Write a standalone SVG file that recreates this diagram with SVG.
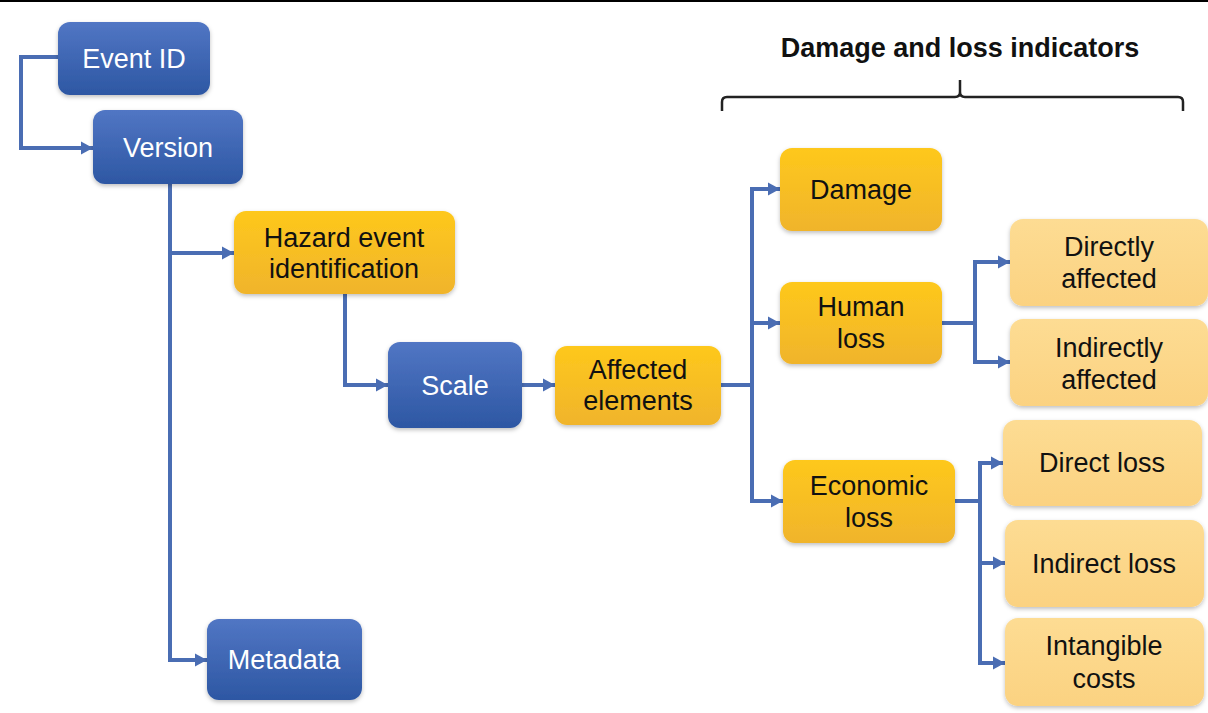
<svg xmlns="http://www.w3.org/2000/svg" width="1208" height="713" viewBox="0 0 1208 713">
<defs>
<linearGradient id="gBlue" x1="0" y1="0" x2="0" y2="1">
<stop offset="0" stop-color="#5176c4"/>
<stop offset="1" stop-color="#2d57a3"/>
</linearGradient>
<linearGradient id="gYel" x1="0" y1="0" x2="0" y2="1">
<stop offset="0" stop-color="#fec81c"/>
<stop offset="1" stop-color="#f0b42c"/>
</linearGradient>
<linearGradient id="gLight" x1="0" y1="0" x2="0" y2="1">
<stop offset="0" stop-color="#fddc93"/>
<stop offset="1" stop-color="#fbd281"/>
</linearGradient>
<filter id="sh" x="-10%" y="-10%" width="120%" height="130%">
<feDropShadow dx="0" dy="2" stdDeviation="2" flood-color="#000" flood-opacity="0.25"/>
</filter>
<marker id="arr" markerUnits="userSpaceOnUse" markerWidth="14" markerHeight="14" refX="12" refY="7" orient="auto">
<path d="M0,0.5 L12,7 L0,13.5 z" fill="#4a6db3"/>
</marker>
<style>
.conn{fill:none;stroke:#4a6db3;stroke-width:4;}
.blue{fill:url(#gBlue);filter:url(#sh);}
.yel{fill:url(#gYel);filter:url(#sh);}
.light{fill:url(#gLight);filter:url(#sh);}
.tw{font-family:"Liberation Sans",Arial,sans-serif;font-size:27px;fill:#ffffff;text-anchor:middle;}
.tb{font-family:"Liberation Sans",Arial,sans-serif;font-size:27px;fill:#111111;text-anchor:middle;}
.hd{font-family:"Liberation Sans",Arial,sans-serif;font-size:27px;font-weight:bold;fill:#111111;text-anchor:middle;}
</style>
</defs>
<rect x="0" y="0" width="1208" height="713" fill="#ffffff"/>
<rect x="0" y="0" width="1208" height="2" fill="#000000"/>

<g id="header">
<text class="hd" x="960" y="57">Damage and loss indicators</text>
<path d="M722,111 V102 Q722,97 727,97 H955 Q960,97 960,92 V80 M960,92 Q960,97 965,97 H1178 Q1183,97 1183,102 V111" fill="none" stroke="#222222" stroke-width="2.5"/>
</g>

<g id="connectors">
<path class="conn" d="M58,57 H21 V148 H93" marker-end="url(#arr)"/>
<path class="conn" d="M170,184 V660 H207" marker-end="url(#arr)"/>
<path class="conn" d="M170,253 H234" marker-end="url(#arr)"/>
<path class="conn" d="M345,294 V385 H388" marker-end="url(#arr)"/>
<path class="conn" d="M522,385 H555" marker-end="url(#arr)"/>
<path class="conn" d="M721,385 H752"/>
<path class="conn" d="M752,501 V189 H780" marker-end="url(#arr)"/>
<path class="conn" d="M752,323 H780" marker-end="url(#arr)"/>
<path class="conn" d="M752,499 V501 H783" marker-end="url(#arr)"/>
<path class="conn" d="M942,323 H975"/>
<path class="conn" d="M975,362 V262 H1010" marker-end="url(#arr)"/>
<path class="conn" d="M975,360 V362 H1010" marker-end="url(#arr)"/>
<path class="conn" d="M955,501 H980"/>
<path class="conn" d="M980,663 V463 H1003" marker-end="url(#arr)"/>
<path class="conn" d="M980,563 H1005" marker-end="url(#arr)"/>
<path class="conn" d="M980,661 V663 H1005" marker-end="url(#arr)"/>
</g>

<g id="event-id">
<rect class="blue" x="58" y="22" width="152" height="73" rx="12"/>
<text class="tw" x="134" y="68">Event ID</text>
</g>
<g id="version">
<rect class="blue" x="93" y="110" width="150" height="74" rx="12"/>
<text class="tw" x="168" y="157">Version</text>
</g>
<g id="hazard">
<rect class="yel" x="234" y="211" width="221" height="83" rx="12"/>
<text class="tb" x="344" y="247">Hazard event</text>
<text class="tb" x="344" y="278">identification</text>
</g>
<g id="scale">
<rect class="blue" x="388" y="342" width="134" height="86" rx="12"/>
<text class="tw" x="455" y="395">Scale</text>
</g>
<g id="affected">
<rect class="yel" x="555" y="346" width="166" height="79" rx="12"/>
<text class="tb" x="638" y="379">Affected</text>
<text class="tb" x="638" y="410">elements</text>
</g>
<g id="metadata">
<rect class="blue" x="207" y="619" width="155" height="81" rx="12"/>
<text class="tw" x="284" y="669">Metadata</text>
</g>
<g id="damage">
<rect class="yel" x="780" y="148" width="162" height="83" rx="12"/>
<text class="tb" x="861" y="199">Damage</text>
</g>
<g id="human-loss">
<rect class="yel" x="780" y="282" width="162" height="82" rx="12"/>
<text class="tb" x="861" y="316">Human</text>
<text class="tb" x="861" y="348">loss</text>
</g>
<g id="economic-loss">
<rect class="yel" x="783" y="460" width="172" height="83" rx="12"/>
<text class="tb" x="869" y="495">Economic</text>
<text class="tb" x="869" y="527">loss</text>
</g>
<g id="directly-affected">
<rect class="light" x="1010" y="219" width="198" height="87" rx="13"/>
<text class="tb" x="1109" y="256">Directly</text>
<text class="tb" x="1109" y="288">affected</text>
</g>
<g id="indirectly-affected">
<rect class="light" x="1010" y="319" width="198" height="87" rx="13"/>
<text class="tb" x="1109" y="357">Indirectly</text>
<text class="tb" x="1109" y="389">affected</text>
</g>
<g id="direct-loss">
<rect class="light" x="1003" y="420" width="199" height="86" rx="13"/>
<text class="tb" x="1102" y="472">Direct loss</text>
</g>
<g id="indirect-loss">
<rect class="light" x="1005" y="520" width="199" height="87" rx="13"/>
<text class="tb" x="1104" y="573">Indirect loss</text>
</g>
<g id="intangible-costs">
<rect class="light" x="1005" y="618" width="199" height="88" rx="13"/>
<text class="tb" x="1104" y="655">Intangible</text>
<text class="tb" x="1104" y="688">costs</text>
</g>
</svg>
